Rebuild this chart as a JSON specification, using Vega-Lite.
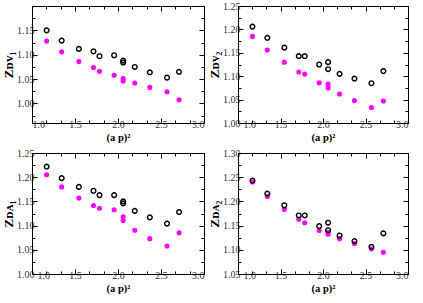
{
  "$schema": "https://vega.github.io/schema/vega-lite/v6.json",
  "padding": {"left": 2, "top": 0, "right": 3, "bottom": 0},
  "spacing": {"row": 4, "column": 3},
  "config": {
    "view": {"stroke": "black", "strokeWidth": 1},
    "font": "Liberation Serif",
    "axis": {
      "grid": false,
      "domainColor": "black",
      "tickColor": "black",
      "labelFont": "Liberation Serif",
      "labelFontSize": 10,
      "labelColor": "#333",
      "labelPadding": 3,
      "titleFont": "Liberation Serif",
      "titleFontWeight": "bold",
      "titleColor": "black"
    },
    "axisBottom": {"labelPadding": 1, "titlePadding": 3}
  },
  "datasets": {
    "pts": [
      {"p": "DV1", "s": "open", "x": 1.17, "y": 1.150}, {"p": "DV1", "s": "open", "x": 1.345, "y": 1.129}, {"p": "DV1", "s": "open", "x": 1.545, "y": 1.112}, {"p": "DV1", "s": "open", "x": 1.715, "y": 1.107}, {"p": "DV1", "s": "open", "x": 1.785, "y": 1.097}, {"p": "DV1", "s": "open", "x": 1.955, "y": 1.099}, {"p": "DV1", "s": "open", "x": 2.06, "y": 1.088}, {"p": "DV1", "s": "open", "x": 2.06, "y": 1.084}, {"p": "DV1", "s": "open", "x": 2.195, "y": 1.075}, {"p": "DV1", "s": "open", "x": 2.37, "y": 1.064}, {"p": "DV1", "s": "open", "x": 2.57, "y": 1.053}, {"p": "DV1", "s": "open", "x": 2.71, "y": 1.065},
      {"p": "DV1", "s": "fill", "x": 1.17, "y": 1.128}, {"p": "DV1", "s": "fill", "x": 1.345, "y": 1.106}, {"p": "DV1", "s": "fill", "x": 1.545, "y": 1.086}, {"p": "DV1", "s": "fill", "x": 1.715, "y": 1.074}, {"p": "DV1", "s": "fill", "x": 1.785, "y": 1.066}, {"p": "DV1", "s": "fill", "x": 1.955, "y": 1.058}, {"p": "DV1", "s": "fill", "x": 2.06, "y": 1.051}, {"p": "DV1", "s": "fill", "x": 2.06, "y": 1.046}, {"p": "DV1", "s": "fill", "x": 2.195, "y": 1.042}, {"p": "DV1", "s": "fill", "x": 2.37, "y": 1.033}, {"p": "DV1", "s": "fill", "x": 2.57, "y": 1.024}, {"p": "DV1", "s": "fill", "x": 2.71, "y": 1.0075},
      {"p": "DV2", "s": "open", "x": 1.17, "y": 1.206}, {"p": "DV2", "s": "open", "x": 1.345, "y": 1.182}, {"p": "DV2", "s": "open", "x": 1.545, "y": 1.161}, {"p": "DV2", "s": "open", "x": 1.715, "y": 1.143}, {"p": "DV2", "s": "open", "x": 1.785, "y": 1.143}, {"p": "DV2", "s": "open", "x": 1.955, "y": 1.125}, {"p": "DV2", "s": "open", "x": 2.06, "y": 1.130}, {"p": "DV2", "s": "open", "x": 2.06, "y": 1.115}, {"p": "DV2", "s": "open", "x": 2.195, "y": 1.105}, {"p": "DV2", "s": "open", "x": 2.37, "y": 1.095}, {"p": "DV2", "s": "open", "x": 2.57, "y": 1.085}, {"p": "DV2", "s": "open", "x": 2.71, "y": 1.111},
      {"p": "DV2", "s": "fill", "x": 1.17, "y": 1.185}, {"p": "DV2", "s": "fill", "x": 1.345, "y": 1.156}, {"p": "DV2", "s": "fill", "x": 1.545, "y": 1.130}, {"p": "DV2", "s": "fill", "x": 1.715, "y": 1.109}, {"p": "DV2", "s": "fill", "x": 1.785, "y": 1.1045}, {"p": "DV2", "s": "fill", "x": 1.955, "y": 1.086}, {"p": "DV2", "s": "fill", "x": 2.06, "y": 1.083}, {"p": "DV2", "s": "fill", "x": 2.06, "y": 1.075}, {"p": "DV2", "s": "fill", "x": 2.195, "y": 1.062}, {"p": "DV2", "s": "fill", "x": 2.37, "y": 1.048}, {"p": "DV2", "s": "fill", "x": 2.57, "y": 1.033}, {"p": "DV2", "s": "fill", "x": 2.71, "y": 1.047},
      {"p": "DA1", "s": "open", "x": 1.17, "y": 1.222}, {"p": "DA1", "s": "open", "x": 1.345, "y": 1.198}, {"p": "DA1", "s": "open", "x": 1.545, "y": 1.180}, {"p": "DA1", "s": "open", "x": 1.715, "y": 1.172}, {"p": "DA1", "s": "open", "x": 1.785, "y": 1.163}, {"p": "DA1", "s": "open", "x": 1.955, "y": 1.163}, {"p": "DA1", "s": "open", "x": 2.06, "y": 1.150}, {"p": "DA1", "s": "open", "x": 2.06, "y": 1.146}, {"p": "DA1", "s": "open", "x": 2.195, "y": 1.1305}, {"p": "DA1", "s": "open", "x": 2.37, "y": 1.117}, {"p": "DA1", "s": "open", "x": 2.57, "y": 1.104}, {"p": "DA1", "s": "open", "x": 2.71, "y": 1.128},
      {"p": "DA1", "s": "fill", "x": 1.17, "y": 1.205}, {"p": "DA1", "s": "fill", "x": 1.345, "y": 1.180}, {"p": "DA1", "s": "fill", "x": 1.545, "y": 1.157}, {"p": "DA1", "s": "fill", "x": 1.715, "y": 1.1415}, {"p": "DA1", "s": "fill", "x": 1.785, "y": 1.136}, {"p": "DA1", "s": "fill", "x": 1.955, "y": 1.1325}, {"p": "DA1", "s": "fill", "x": 2.06, "y": 1.118}, {"p": "DA1", "s": "fill", "x": 2.06, "y": 1.1105}, {"p": "DA1", "s": "fill", "x": 2.195, "y": 1.0905}, {"p": "DA1", "s": "fill", "x": 2.37, "y": 1.073}, {"p": "DA1", "s": "fill", "x": 2.57, "y": 1.058}, {"p": "DA1", "s": "fill", "x": 2.71, "y": 1.085},
      {"p": "DA2", "s": "open", "x": 1.17, "y": 1.243}, {"p": "DA2", "s": "open", "x": 1.345, "y": 1.216}, {"p": "DA2", "s": "open", "x": 1.545, "y": 1.192}, {"p": "DA2", "s": "open", "x": 1.715, "y": 1.171}, {"p": "DA2", "s": "open", "x": 1.785, "y": 1.171}, {"p": "DA2", "s": "open", "x": 1.955, "y": 1.149}, {"p": "DA2", "s": "open", "x": 2.06, "y": 1.156}, {"p": "DA2", "s": "open", "x": 2.06, "y": 1.1405}, {"p": "DA2", "s": "open", "x": 2.195, "y": 1.1295}, {"p": "DA2", "s": "open", "x": 2.37, "y": 1.118}, {"p": "DA2", "s": "open", "x": 2.57, "y": 1.106}, {"p": "DA2", "s": "open", "x": 2.71, "y": 1.134},
      {"p": "DA2", "s": "fill", "x": 1.17, "y": 1.240}, {"p": "DA2", "s": "fill", "x": 1.345, "y": 1.210}, {"p": "DA2", "s": "fill", "x": 1.545, "y": 1.1835}, {"p": "DA2", "s": "fill", "x": 1.715, "y": 1.163}, {"p": "DA2", "s": "fill", "x": 1.785, "y": 1.156}, {"p": "DA2", "s": "fill", "x": 1.955, "y": 1.140}, {"p": "DA2", "s": "fill", "x": 2.06, "y": 1.136}, {"p": "DA2", "s": "fill", "x": 2.06, "y": 1.132}, {"p": "DA2", "s": "fill", "x": 2.195, "y": 1.123}, {"p": "DA2", "s": "fill", "x": 2.37, "y": 1.113}, {"p": "DA2", "s": "fill", "x": 2.57, "y": 1.102}, {"p": "DA2", "s": "fill", "x": 2.71, "y": 1.095}
    ]
  },
  "columns": 2,
  "concat": [
    {
      "width": 172, "height": 117,
      "data": {"name": "pts"},
      "transform": [{"filter": "datum.p == 'DV1'"}],
      "resolve": {"axis": {"x": "independent", "y": "independent"}},
      "layer": [
        {
          "transform": [{"filter": "datum.s == 'fill'"}],
          "mark": {"type": "point", "filled": true, "color": "#ff00ff", "size": 26, "opacity": 1},
          "encoding": {
            "x": {"field": "x", "type": "quantitative", "scale": {"domain": [1.0, 3.0]},
              "axis": {"orient": "top", "title": null, "labels": false, "values": [1.0,1.1667,1.3333,1.5,1.6667,1.8333,2.0,2.1667,2.3333,2.5,2.6667,2.8333,3.0],
                "tickSize": {"condition": {"test": "abs(datum.value*2-round(datum.value*2))<0.001", "value": -5}, "value": -3}}},
            "y": {"field": "y", "type": "quantitative", "scale": {"domain": [0.96, 1.2], "nice": false, "zero": false},
              "axis": {"orient": "right", "title": null, "labels": false, "values": [0.975,1.0,1.025,1.05,1.075,1.1,1.125,1.15,1.175],
                "tickSize": {"condition": {"test": "abs(datum.value*20-round(datum.value*20))<0.001", "value": -5}, "value": -3}}}
          }
        },
        {
          "transform": [{"filter": "datum.s == 'open'"}],
          "mark": {"type": "point", "filled": false, "color": "black", "size": 22, "strokeWidth": 1.4, "opacity": 1},
          "encoding": {
            "x": {"field": "x", "type": "quantitative",
              "axis": {"orient": "bottom", "title": "(a p)²", "titleFontSize": 10.5, "values": [1.0,1.1667,1.3333,1.5,1.6667,1.8333,2.0,2.1667,2.3333,2.5,2.6667,2.8333,3.0],
                "labelExpr": "abs(datum.value*2-round(datum.value*2))<0.001 ? format(datum.value, '.1f') : ''",
                "tickSize": {"condition": {"test": "abs(datum.value*2-round(datum.value*2))<0.001", "value": -5}, "value": -3}}},
            "y": {"field": "y", "type": "quantitative",
              "axis": {"orient": "left", "title": "Zᴅᴠ₁", "titleFontSize": 13, "titlePadding": 1, "values": [0.975,1.0,1.025,1.05,1.075,1.1,1.125,1.15,1.175],
                "labelExpr": "abs(datum.value*20-round(datum.value*20))<0.001 ? format(datum.value, '.2f') : ''",
                "tickSize": {"condition": {"test": "abs(datum.value*20-round(datum.value*20))<0.001", "value": -5}, "value": -3}}}
          }
        }
      ]
    },
    {
      "width": 170, "height": 117,
      "data": {"name": "pts"},
      "transform": [{"filter": "datum.p == 'DV2'"}],
      "resolve": {"axis": {"x": "independent", "y": "independent"}},
      "layer": [
        {
          "transform": [{"filter": "datum.s == 'fill'"}],
          "mark": {"type": "point", "filled": true, "color": "#ff00ff", "size": 26, "opacity": 1},
          "encoding": {
            "x": {"field": "x", "type": "quantitative", "scale": {"domain": [1.0, 3.0]},
              "axis": {"orient": "top", "title": null, "labels": false, "values": [1.0,1.1667,1.3333,1.5,1.6667,1.8333,2.0,2.1667,2.3333,2.5,2.6667,2.8333,3.0],
                "tickSize": {"condition": {"test": "abs(datum.value*2-round(datum.value*2))<0.001", "value": -5}, "value": -3}}},
            "y": {"field": "y", "type": "quantitative", "scale": {"domain": [1.0, 1.25], "nice": false, "zero": false},
              "axis": {"orient": "right", "title": null, "labels": false, "values": [1.0,1.025,1.05,1.075,1.1,1.125,1.15,1.175,1.2,1.225,1.25],
                "tickSize": {"condition": {"test": "abs(datum.value*20-round(datum.value*20))<0.001", "value": -5}, "value": -3}}}
          }
        },
        {
          "transform": [{"filter": "datum.s == 'open'"}],
          "mark": {"type": "point", "filled": false, "color": "black", "size": 22, "strokeWidth": 1.4, "opacity": 1},
          "encoding": {
            "x": {"field": "x", "type": "quantitative",
              "axis": {"orient": "bottom", "title": "(a p)²", "titleFontSize": 10.5, "values": [1.0,1.1667,1.3333,1.5,1.6667,1.8333,2.0,2.1667,2.3333,2.5,2.6667,2.8333,3.0],
                "labelExpr": "abs(datum.value*2-round(datum.value*2))<0.001 ? format(datum.value, '.1f') : ''",
                "labelOffset": {"condition": {"test": "datum.value < 1.01", "value": 5}, "value": 0},
                "tickSize": {"condition": {"test": "abs(datum.value*2-round(datum.value*2))<0.001", "value": -5}, "value": -3}}},
            "y": {"field": "y", "type": "quantitative",
              "axis": {"orient": "left", "title": "Zᴅᴠ₂", "titleFontSize": 13, "titlePadding": 1, "values": [1.0,1.025,1.05,1.075,1.1,1.125,1.15,1.175,1.2,1.225,1.25],
                "labelExpr": "abs(datum.value*20-round(datum.value*20))<0.001 ? format(datum.value, '.2f') : ''",
                "tickSize": {"condition": {"test": "abs(datum.value*20-round(datum.value*20))<0.001", "value": -5}, "value": -3}}}
          }
        }
      ]
    },
    {
      "width": 172, "height": 121,
      "data": {"name": "pts"},
      "transform": [{"filter": "datum.p == 'DA1'"}],
      "resolve": {"axis": {"x": "independent", "y": "independent"}},
      "layer": [
        {
          "transform": [{"filter": "datum.s == 'fill'"}],
          "mark": {"type": "point", "filled": true, "color": "#ff00ff", "size": 26, "opacity": 1},
          "encoding": {
            "x": {"field": "x", "type": "quantitative", "scale": {"domain": [1.0, 3.0]},
              "axis": {"orient": "top", "title": null, "labels": false, "values": [1.0,1.1667,1.3333,1.5,1.6667,1.8333,2.0,2.1667,2.3333,2.5,2.6667,2.8333,3.0],
                "tickSize": {"condition": {"test": "abs(datum.value*2-round(datum.value*2))<0.001", "value": -5}, "value": -3}}},
            "y": {"field": "y", "type": "quantitative", "scale": {"domain": [1.0, 1.25], "nice": false, "zero": false},
              "axis": {"orient": "right", "title": null, "labels": false, "values": [1.0,1.025,1.05,1.075,1.1,1.125,1.15,1.175,1.2,1.225,1.25],
                "tickSize": {"condition": {"test": "abs(datum.value*20-round(datum.value*20))<0.001", "value": -5}, "value": -3}}}
          }
        },
        {
          "transform": [{"filter": "datum.s == 'open'"}],
          "mark": {"type": "point", "filled": false, "color": "black", "size": 22, "strokeWidth": 1.4, "opacity": 1},
          "encoding": {
            "x": {"field": "x", "type": "quantitative",
              "axis": {"orient": "bottom", "title": "(a p)²", "titleFontSize": 10.5, "values": [1.0,1.1667,1.3333,1.5,1.6667,1.8333,2.0,2.1667,2.3333,2.5,2.6667,2.8333,3.0],
                "labelExpr": "abs(datum.value*2-round(datum.value*2))<0.001 ? format(datum.value, '.1f') : ''",
                "labelOffset": {"condition": {"test": "datum.value < 1.01", "value": 5}, "value": 0},
                "tickSize": {"condition": {"test": "abs(datum.value*2-round(datum.value*2))<0.001", "value": -5}, "value": -3}}},
            "y": {"field": "y", "type": "quantitative",
              "axis": {"orient": "left", "title": "Zᴅᴀ₁", "titleFontSize": 13, "titlePadding": 1, "values": [1.0,1.025,1.05,1.075,1.1,1.125,1.15,1.175,1.2,1.225,1.25],
                "labelExpr": "abs(datum.value*20-round(datum.value*20))<0.001 ? format(datum.value, '.2f') : ''",
                "tickSize": {"condition": {"test": "abs(datum.value*20-round(datum.value*20))<0.001", "value": -5}, "value": -3}}}
          }
        }
      ]
    },
    {
      "width": 170, "height": 121,
      "data": {"name": "pts"},
      "transform": [{"filter": "datum.p == 'DA2'"}],
      "resolve": {"axis": {"x": "independent", "y": "independent"}},
      "layer": [
        {
          "transform": [{"filter": "datum.s == 'fill'"}],
          "mark": {"type": "point", "filled": true, "color": "#ff00ff", "size": 26, "opacity": 1},
          "encoding": {
            "x": {"field": "x", "type": "quantitative", "scale": {"domain": [1.0, 3.0]},
              "axis": {"orient": "top", "title": null, "labels": false, "values": [1.0,1.1667,1.3333,1.5,1.6667,1.8333,2.0,2.1667,2.3333,2.5,2.6667,2.8333,3.0],
                "tickSize": {"condition": {"test": "abs(datum.value*2-round(datum.value*2))<0.001", "value": -5}, "value": -3}}},
            "y": {"field": "y", "type": "quantitative", "scale": {"domain": [1.05, 1.3], "nice": false, "zero": false},
              "axis": {"orient": "right", "title": null, "labels": false, "values": [1.05,1.075,1.1,1.125,1.15,1.175,1.2,1.225,1.25,1.275,1.3],
                "tickSize": {"condition": {"test": "abs(datum.value*20-round(datum.value*20))<0.001", "value": -5}, "value": -3}}}
          }
        },
        {
          "transform": [{"filter": "datum.s == 'open'"}],
          "mark": {"type": "point", "filled": false, "color": "black", "size": 22, "strokeWidth": 1.4, "opacity": 1},
          "encoding": {
            "x": {"field": "x", "type": "quantitative",
              "axis": {"orient": "bottom", "title": "(a p)²", "titleFontSize": 10.5, "values": [1.0,1.1667,1.3333,1.5,1.6667,1.8333,2.0,2.1667,2.3333,2.5,2.6667,2.8333,3.0],
                "labelExpr": "abs(datum.value*2-round(datum.value*2))<0.001 ? format(datum.value, '.1f') : ''",
                "labelOffset": {"condition": {"test": "datum.value < 1.01", "value": 5}, "value": 0},
                "tickSize": {"condition": {"test": "abs(datum.value*2-round(datum.value*2))<0.001", "value": -5}, "value": -3}}},
            "y": {"field": "y", "type": "quantitative",
              "axis": {"orient": "left", "title": "Zᴅᴀ₂", "titleFontSize": 13, "titlePadding": 1, "values": [1.05,1.075,1.1,1.125,1.15,1.175,1.2,1.225,1.25,1.275,1.3],
                "labelExpr": "abs(datum.value*20-round(datum.value*20))<0.001 ? format(datum.value, '.2f') : ''",
                "tickSize": {"condition": {"test": "abs(datum.value*20-round(datum.value*20))<0.001", "value": -5}, "value": -3}}}
          }
        }
      ]
    }
  ]
}
